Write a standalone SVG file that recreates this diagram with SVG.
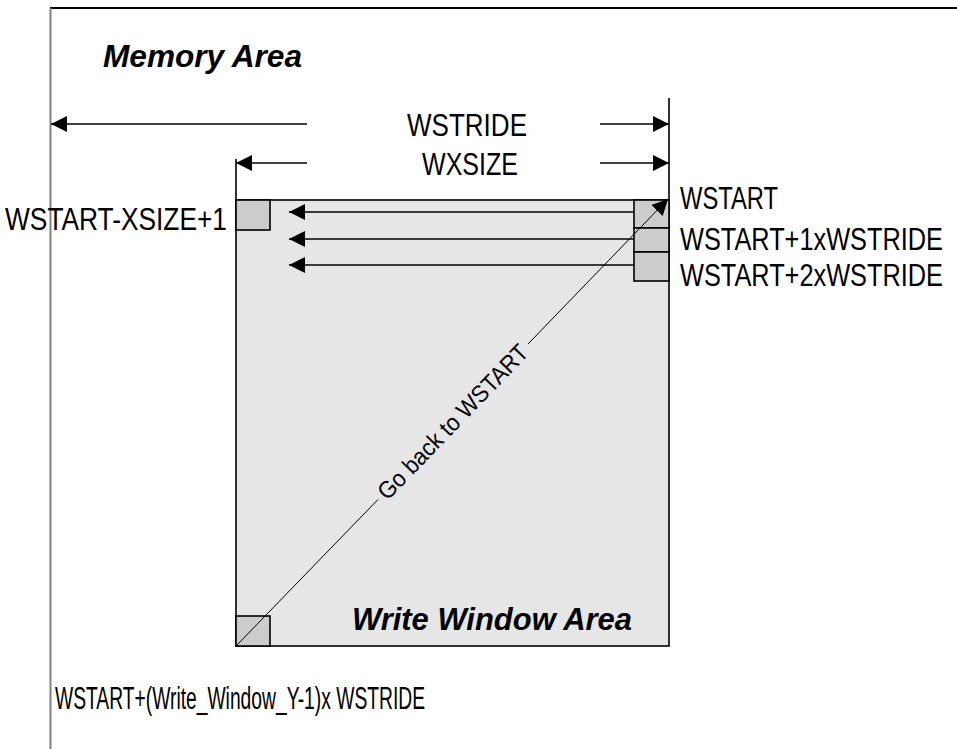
<svg xmlns="http://www.w3.org/2000/svg" width="957" height="749" viewBox="0 0 957 749">
<style>
.t{font-family:"Liberation Sans",Arial,sans-serif;font-size:25px;fill:#000}
.bi{font-family:"Liberation Sans",Arial,sans-serif;font-size:31px;font-weight:bold;font-style:italic;fill:#000}
.ln{stroke:#000;stroke-width:1.6;fill:none}
.cell{fill:#cccccc;stroke:#000;stroke-width:1.6}
</style>
<defs>
<marker id="ah" viewBox="0 0 16 16" refX="16" refY="8" markerWidth="16" markerHeight="16" markerUnits="userSpaceOnUse" orient="auto">
<path d="M0,0 L16,8 L0,16 Z" fill="#000"/>
</marker>
</defs>
<rect width="957" height="749" fill="#fff"/>
<g id="memory-area">
<line x1="50" y1="8" x2="957" y2="8" stroke="#000" stroke-width="2"/>
<line x1="50.5" y1="8" x2="50.5" y2="749" stroke="#808080" stroke-width="2"/>
<text class="bi" x="103" y="67" textLength="199" lengthAdjust="spacingAndGlyphs">Memory Area</text>
</g>
<g id="write-window">
<rect x="236" y="200" width="433" height="446" fill="#e6e6e6" stroke="#000" stroke-width="1.6"/>
<line class="ln" x1="669" y1="98" x2="669" y2="200"/>
<line class="ln" x1="236" y1="159" x2="236" y2="200"/>
<text class="bi" x="352" y="630" textLength="280" lengthAdjust="spacingAndGlyphs">Write Window Area</text>
</g>
<g id="cell-first">
<rect class="cell" x="236" y="200" width="34" height="30"/>
<text class="t" transform="translate(5,230) scale(1,1.22)" textLength="222" lengthAdjust="spacingAndGlyphs">WSTART-XSIZE+1</text>
</g>
<g id="cell-wstart">
<rect class="cell" x="634" y="200" width="35" height="28"/>
<text class="t" transform="translate(680,209) scale(1,1.22)" textLength="98" lengthAdjust="spacingAndGlyphs">WSTART</text>
</g>
<g id="cell-wstart1">
<rect class="cell" x="634" y="228" width="35" height="24"/>
<text class="t" transform="translate(680,250) scale(1,1.22)" textLength="263" lengthAdjust="spacingAndGlyphs">WSTART+1xWSTRIDE</text>
</g>
<g id="cell-wstart2">
<rect class="cell" x="634" y="252" width="35" height="29"/>
<text class="t" transform="translate(680,286) scale(1,1.22)" textLength="263" lengthAdjust="spacingAndGlyphs">WSTART+2xWSTRIDE</text>
</g>
<g id="cell-last">
<rect class="cell" x="236" y="616" width="34" height="30"/>
<text class="t" transform="translate(55,709) scale(1,1.26)" textLength="370" lengthAdjust="spacingAndGlyphs">WSTART+(Write_Window_Y-1)x WSTRIDE</text>
</g>
<g id="dimensions">
<text class="t" transform="translate(407,136) scale(1,1.22)" textLength="120" lengthAdjust="spacingAndGlyphs">WSTRIDE</text>
<text class="t" transform="translate(422,175) scale(1,1.22)" textLength="96" lengthAdjust="spacingAndGlyphs">WXSIZE</text>
</g>
<g id="connectors">
<line class="ln" x1="307" y1="124" x2="51" y2="124" marker-end="url(#ah)"/>
<line class="ln" x1="600" y1="124" x2="669" y2="124" marker-end="url(#ah)"/>
<line class="ln" x1="307" y1="163" x2="236" y2="163" marker-end="url(#ah)"/>
<line class="ln" x1="600" y1="163" x2="669" y2="163" marker-end="url(#ah)"/>
<line class="ln" x1="634" y1="212" x2="289" y2="212" marker-end="url(#ah)"/>
<line class="ln" x1="634" y1="239" x2="289" y2="239" marker-end="url(#ah)"/>
<line class="ln" x1="634" y1="265" x2="289" y2="265" marker-end="url(#ah)"/>
<line x1="236" y1="646" x2="378" y2="499.5" stroke="#000" stroke-width="1"/>
<line x1="528" y1="344" x2="668" y2="199" stroke="#000" stroke-width="1" marker-end="url(#ah)"/>
<text class="t" style="font-size:24px" text-anchor="middle" transform="translate(453,422) rotate(-46.04)" y="8" textLength="205" lengthAdjust="spacingAndGlyphs">Go back to WSTART</text>
</g>
</svg>
